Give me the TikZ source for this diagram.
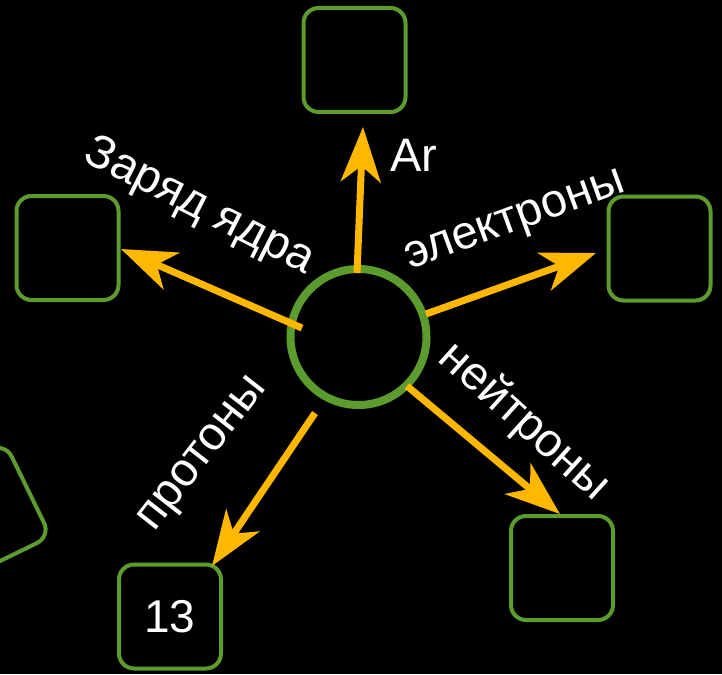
\documentclass[tikz,border=0pt]{standalone}
\usepackage{fontspec}
\setmainfont{Liberation Sans}
\usetikzlibrary{arrows.meta}
\definecolor{boxgreen}{RGB}{92,156,46}
\definecolor{arrorange}{RGB}{255,183,0}
\begin{document}
\begin{tikzpicture}[x=1pt,y=-1pt,
  box/.style={draw=boxgreen, line width=4pt, rounded corners=15pt, minimum width=102pt, minimum height=104pt, inner sep=0pt, text=white, font=\fontsize{46}{52}\selectfont},
  link/.style={draw=arrorange, line width=7pt, -{Stealth[length=55pt,width=40pt,inset=16pt]}},
  lbl/.style={text=white, font=\fontsize{47}{52}\selectfont, inner sep=0pt}]
\fill[black] (0,0) rectangle (722,674);
\useasboundingbox (0,0) rectangle (722,674);
\clip (0,0) rectangle (722,674);
% boxes
\node[box] (top) at (354.5,60) {};
\node[box] (left) at (67.5,248) {};
\node[box] (right) at (659.5,248.5) {};
\node[box] (br) at (562,568) {};
\node[box] (bot) at (170,616.5) {13};
\node[box, rotate=26] (partial) at (-18,512) {};
% atom
\node[circle, draw=boxgreen, line width=8pt, minimum size=136pt, inner sep=0pt] (atom) at (358.5,337) {};
% arrow end points
\coordinate (s1) at (357,273);
\coordinate (t1) at (363,127);
\coordinate (s2) at (302,328);
\coordinate (t2) at (121,249);
\coordinate (s3) at (426,314);
\coordinate (t3) at (596,253);
\coordinate (s4) at (407,386);
\coordinate (t4) at (560,514);
\coordinate (s5) at (315,413);
\coordinate (t5) at (212,566);
\draw[link] (s1) -- (t1);
\draw[link] (s2) -- (t2);
\draw[link] (s3) -- (t3);
\draw[link] (s4) -- (t4);
\draw[link] (s5) -- (t5);
% labels
\node[lbl, anchor=base] (lAr) at (414,171) {Ar};
\node[lbl, rotate=-27] (lZ) at (199,207) {Заряд ядра};
\node[lbl, rotate=20] (lE) at (516,223) {электроны};
\node[lbl, rotate=-42] (lN) at (524,422) {нейтроны};
\node[lbl, rotate=52] (lP) at (205,455) {протоны};
\end{tikzpicture}
\end{document}
